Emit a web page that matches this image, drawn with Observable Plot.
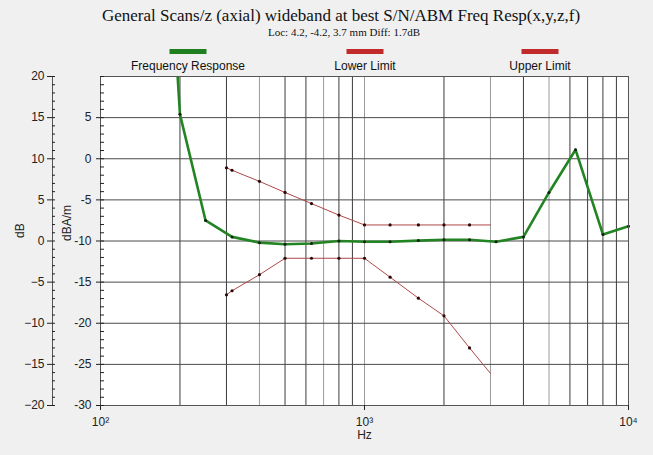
<!DOCTYPE html>
<html>
<head>
<meta charset="utf-8">
<script src="https://cdn.jsdelivr.net/npm/d3@7"></script>
<script src="https://cdn.jsdelivr.net/npm/@observablehq/plot@0.6"></script>
<style>
  html, body { margin: 0; padding: 0; background: #f0f0f0; }
  #wrap { width: 653px; height: 455px; position: relative; overflow: hidden; }
  #head { position: relative; width: 653px; height: 70px; }
  .t { position: absolute; white-space: nowrap; transform: translateX(-50%); }
  #title { top: 6px; left: 341px; font: 17px "Liberation Serif", "Times New Roman", serif; line-height: 20px; color: #111; }
  #sub { top: 26px; left: 344px; font: 11px "Liberation Serif", "Times New Roman", serif; line-height: 13px; color: #111; }
  .sw { position: absolute; top: 49px; width: 37px; height: 5px; transform: translateX(-50%); }
  .lg { top: 59px; font: 12px "Liberation Sans", Arial, sans-serif; line-height: 14px; color: #111; }
</style>
</head>
<body>
<div id="wrap">
  <div id="head">
    <div id="title" class="t"></div>
    <div id="sub" class="t"></div>
  </div>
  <div id="chart"></div>
</div>
<script>
// ---- data ----
const titleText = "General Scans/z (axial) wideband at best S/N/ABM Freq Resp(x,y,z,f)";
const subtitleText = "Loc: 4.2, -4.2, 3.7 mm Diff: 1.7dB";
const seriesNames = ["Frequency Response", "Lower Limit", "Upper Limit"];
const seriesColors = ["#1f7f1f", "#c02a2a", "#c02a2a"];

const responseHz = [190, 200, 250, 315, 400, 500, 630, 800, 1000, 1250, 1600, 2000, 2500, 3150, 4000, 5000, 6300, 8000, 10000];
const responseDb = [27, 15.4, 2.5, 0.5, -0.2, -0.4, -0.3, 0, -0.1, -0.1, 0.05, 0.15, 0.15, -0.1, 0.5, 5.9, 11.1, 0.8, 1.8];

const limitHz = [300, 315, 400, 500, 630, 800, 1000, 1250, 1600, 2000, 2500, 3000];
const upperDb = [8.9, 8.6, 7.25, 5.9, 4.55, 3.15, 1.95, 1.95, 1.95, 1.95, 1.95, 1.95];
const lowerDb = [-6.55, -6.05, -4.1, -2.1, -2.1, -2.1, -2.1, -4.4, -6.95, -9.1, -13.0, -16.1];

const xTicks = [100, 1000, 10000];
const xTickLabels = ["10\u00B2", "10\u00B3", "10\u2074"];
const gridHzDark = [200, 300, 500, 600, 800, 900, 2000, 4000, 6000, 7000, 8000, 9000];
const gridHzLight = [400, 700, 1000, 3000, 5000];
const gridDb = [15, 10, 5, 0, -5, -10, -15];
const dbTicks = [20, 15, 10, 5, 0, -5, -10, -15, -20];
const dbaTicks = [15, 10, 5, 0, -5, -10, -15, -20]; // dB positions; label = dB - 10
const minorDb = d3.range(-20, 21, 1);

// ---- header ----
document.getElementById("title").textContent = titleText;
document.getElementById("sub").textContent = subtitleText;
const head = document.getElementById("head");
const legendX = [188, 365, 540];
seriesNames.forEach((n, i) => {
  const s = document.createElement("div");
  s.className = "sw"; s.style.left = legendX[i] + "px"; s.style.background = seriesColors[i];
  head.appendChild(s);
  const l = document.createElement("div");
  l.className = "t lg"; l.style.left = legendX[i] + "px"; l.textContent = n;
  head.appendChild(l);
});

const resp = responseHz.map((f, i) => ({f, v: responseDb[i]}));
const upper = limitHz.map((f, i) => ({f, v: upperDb[i]}));
const lower = limitHz.map((f, i) => ({f, v: lowerDb[i]}));
const dotted = (arr) => arr.slice(0, arr.length - 1);
const noText = () => "";

const chart = Plot.plot({
  width: 653,
  height: 385,
  marginTop: 6,
  marginBottom: 50,
  marginLeft: 100,
  marginRight: 25,
  style: {background: "transparent", fontFamily: "'Liberation Sans', Arial, sans-serif", fontSize: "12px", color: "#222"},
  x: {type: "log", domain: [100, 10000], axis: null},
  y: {domain: [-20, 20], axis: null},
  marks: [
    Plot.frame({fill: "white", stroke: null}),
    Plot.ruleX(gridHzLight, {stroke: "#9a9a9a", strokeWidth: 1}),
    Plot.ruleX(gridHzDark, {stroke: "#3c3c3c", strokeWidth: 1}),
    Plot.ruleY(gridDb, {stroke: "#4a4a4a", strokeWidth: 1}),
    Plot.line(upper, {x: "f", y: "v", stroke: "#b04848", strokeWidth: 1}),
    Plot.line(lower, {x: "f", y: "v", stroke: "#b04848", strokeWidth: 1}),
    Plot.dot(dotted(upper), {x: "f", y: "v", r: 1.6, fill: "#2a0808", stroke: null}),
    Plot.dot(dotted(lower), {x: "f", y: "v", r: 1.6, fill: "#2a0808", stroke: null}),
    Plot.line(resp, {x: "f", y: "v", stroke: "#238423", strokeWidth: 2.6, clip: true}),
    Plot.dot(resp.slice(1), {x: "f", y: "v", r: 1.5, fill: "#102010", stroke: null}),
    Plot.frame({stroke: "#555"}),
    // x axis
    Plot.axisX(xTicks, {anchor: "bottom", tickSize: 5, tickPadding: 7, tickFormat: (d) => xTickLabels[xTicks.indexOf(d)], label: null, fontSize: 12}),
    Plot.text(["Hz"], {frameAnchor: "bottom", dy: 33, fontSize: 12}),
    // dB axis (outer)
    Plot.ruleX([100], {dx: -48, stroke: "#555"}),
    Plot.axisY(dbTicks, {anchor: "left", dx: -48, tickSize: 5, tickPadding: 3, label: null, fontSize: 12}),
    Plot.axisY(minorDb, {anchor: "left", dx: -48, tickSize: -3, tickFormat: noText, label: null}),
    // dBA/m axis (inner)
    Plot.axisY(dbaTicks, {anchor: "left", tickSize: 4, tickPadding: 5, tickFormat: (d) => d - 10, label: null, fontSize: 12}),
    Plot.axisY(minorDb, {anchor: "left", tickSize: -4, tickFormat: noText, label: null}),
    Plot.text(["dB"], {frameAnchor: "left", dx: -80, dy: -3, rotate: -90, fontSize: 12}),
    Plot.text(["dBA/m"], {frameAnchor: "left", dx: -33, rotate: -90, fontSize: 12})
  ]
});
document.getElementById("chart").appendChild(chart);
</script>
</body>
</html>
